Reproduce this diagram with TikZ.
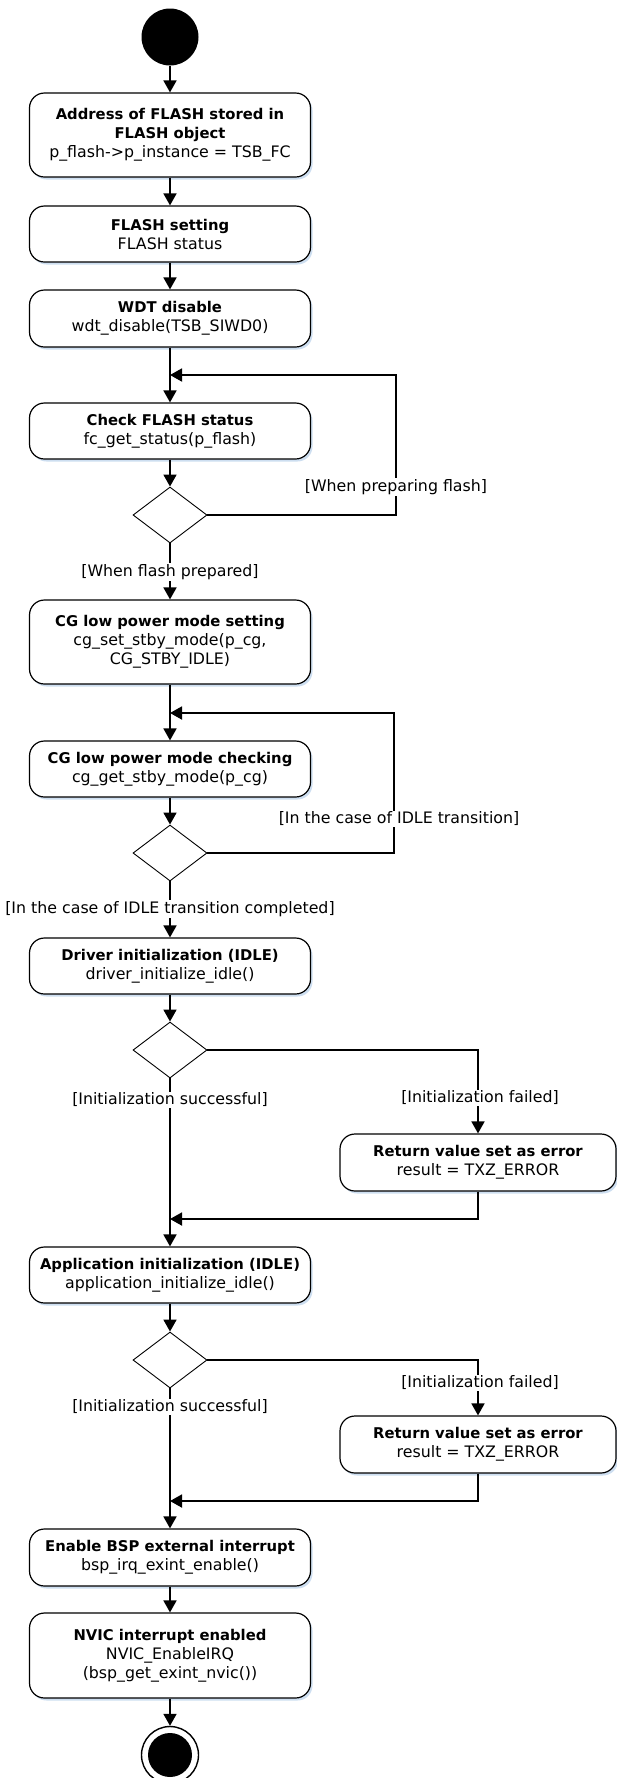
\documentclass[tikz,border=0pt]{standalone}
\usepackage{fontspec}
\setmainfont{DejaVu Sans}
\usetikzlibrary{arrows.meta}
\usetikzlibrary{shapes.geometric}
\usetikzlibrary{shadows}
\definecolor{shadowblue}{RGB}{205,222,240}
\newcommand{\hd}[1]{{\fontsize{14.8}{19}\selectfont\bfseries #1}}

\begin{document}
\begin{tikzpicture}[x=1pt, y=-1pt,
                    >={Triangle[length=12pt,width=13pt]},
                    line width=1.8pt,
                    font=\fontsize{15.8}{19}\selectfont,
                    act/.style={rectangle, rounded corners=15pt, draw, line width=1.2pt, fill=white,
                                minimum width=281pt, align=center, inner sep=2pt,
                                drop shadow={shadow xshift=2pt, shadow yshift=-2.5pt, fill=shadowblue, opacity=1}},
                    dec/.style={diamond, draw, line width=0.9pt, fill=white,
                                minimum width=74pt, minimum height=56pt, inner sep=0pt},
                    grd/.style={fill=white, inner sep=1pt}
                    %fin/.style={circle, draw, double}
                    ]
  \useasboundingbox (0,0) rectangle (617,1778);
  % nodes
  \node[circle, fill=black, minimum size=57pt, inner sep=0pt] (s) at (170,37) {};
  \node[act, minimum height=84pt] (1) at (170,135) {\hd{Address of FLASH stored in}\\ \hd{FLASH object}\\ p\_flash->p\_instance = TSB\_FC};
  \node[act, minimum height=56pt] (2) at (170,234) {\hd{FLASH setting}\\ FLASH status};
  \node[act, minimum height=57pt] (3) at (170,318.5) {\hd{WDT disable}\\ wdt\_disable(TSB\_SIWD0)};
  \node[act, minimum height=56pt] (4) at (170,431) {\hd{Check FLASH status}\\ fc\_get\_status(p\_flash)};
  \node[dec] (d1) at (170,515) {};
  \node[act, minimum height=84pt] (5) at (170,642) {\hd{CG low power mode setting}\\ cg\_set\_stby\_mode(p\_cg,\\ CG\_STBY\_IDLE)};
  \node[act, minimum height=56pt] (6) at (170,769) {\hd{CG low power mode checking}\\ cg\_get\_stby\_mode(p\_cg)};
  \node[dec] (d2) at (170,853) {};
  \node[act, minimum height=56pt] (7) at (170,966) {\hd{Driver initialization (IDLE)}\\ driver\_initialize\_idle()};
  \node[dec] (d3) at (170,1050) {};
  \node[act, minimum height=57pt, minimum width=276pt] (r1) at (478,1162.5) {\hd{Return value set as error}\\ result = TXZ\_ERROR};
  \node[act, minimum height=56pt] (8) at (170,1275) {\hd{Application initialization (IDLE)}\\ application\_initialize\_idle()};
  \node[dec] (d4) at (170,1360) {};
  \node[act, minimum height=57pt, minimum width=276pt] (r2) at (478,1444.5) {\hd{Return value set as error}\\ result = TXZ\_ERROR};
  \node[act, minimum height=57pt] (9) at (170,1557.5) {\hd{Enable BSP external interrupt}\\ bsp\_irq\_exint\_enable()};
  \node[act, minimum height=85pt] (10) at (170,1655.5) {\hd{NVIC interrupt enabled}\\ NVIC\_EnableIRQ\\ (bsp\_get\_exint\_nvic())};
  \node[circle, draw, line width=1.4pt, fill=white, minimum size=57pt, inner sep=0pt] (e) at (170,1755) {};
  \fill (e.center) circle (22pt);

  \coordinate (j1) at (170,375);
  \coordinate (c1) at (396,375);
  \coordinate (j2) at (170,713);
  \coordinate (c2) at (394,713);
  \coordinate (j3) at (170,1219);
  \coordinate (j4) at (170,1501);

  % connectors
  \draw [->] (s) -- (1);
  \draw [->] (1) -- (2);
  \draw [->] (2) -- (3);
  \draw [->] (3) -- (4);
  \draw [->] (4) -- (d1);
  \draw [->] (d1.east) -| (c1) -- (j1);
  \draw [->] (d1) -- (5);
  \draw [->] (5) -- (6);
  \draw [->] (6) -- (d2);
  \draw [->] (d2.east) -| (c2) -- (j2);
  \draw [->] (d2) -- (7);
  \draw [->] (7) -- (d3);
  \draw [->] (d3.east) -| (r1.north);
  \draw [->] (r1.south) |- (j3);
  \draw [->] (d3) -- (8);
  \draw [->] (8) -- (d4);
  \draw [->] (d4.east) -| (r2.north);
  \draw [->] (r2.south) |- (j4);
  \draw [->] (d4) -- (9);
  \draw [->] (9) -- (10);
  \draw [->] (10) -- (e);

  % guards
  \node[grd] (g1) at (396,487) {[When preparing flash]};
  \node[grd] (g2) at (170,572) {[When flash prepared]};
  \node[grd] (g3) at (399,819) {[In the case of IDLE transition]};
  \node[grd] (g4) at (170,909) {[In the case of IDLE transition completed]};
  \node[grd] (g5) at (480,1098) {[Initialization failed]};
  \node[grd] (g6) at (170,1100) {[Initialization successful]};
  \node[grd] (g7) at (480,1383) {[Initialization failed]};
  \node[grd] (g8) at (170,1407) {[Initialization successful]};
\end{tikzpicture}
\end{document}
